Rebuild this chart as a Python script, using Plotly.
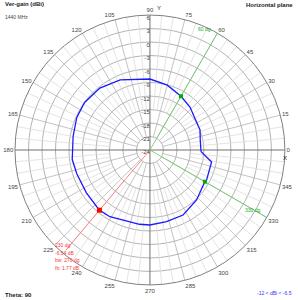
import plotly.graph_objects as go

# Pattern (horizontal plane, dBi)
theta_deg = [0, 11, 22, 47, 60, 75, 90, 113, 129, 144, 156, 170, 187, 198, 214, 230,
             239, 262, 270, 283, 297, 313, 329, 332, 349, 358, 360]
gain_db = [-12.67, -12.6, -12.0, -10.95, -10.2, -9.07, -8.22, -7.07, -6.3, -6.04, -6.2,
           -6.65, -6.6, -6.9, -6.96, -6.54, -6.7, -7.33, -7.33, -7.64, -7.78, -8.8,
           -9.88, -9.75, -10.04, -12.6, -12.67]

radial_ticks = [-24, -21, -18, -15, -12, -9, -6, -3, 0, 3, 6]
angle_ticks = list(range(0, 360, 15))

marker_green_theta = [60, 330]
marker_green_r = [-10.2, -9.9]
marker_red_theta = [230]
marker_red_r = [-6.54]

r_min, r_max = -24, 6

fig = go.Figure()

# fine 5-degree spokes
for a in range(0, 360, 5):
    if a % 15 == 0:
        continue
    fig.add_trace(go.Scatterpolar(r=[-15, r_max], theta=[a, a], mode="lines",
                                  line=dict(color="#dcdcdc", width=0.8),
                                  hoverinfo="skip", showlegend=False))
# 15-degree spokes
for a in angle_ticks:
    if a % 90 == 0:
        continue
    fig.add_trace(go.Scatterpolar(r=[-21, r_max], theta=[a, a], mode="lines",
                                  line=dict(color="#b4b4b4", width=0.8),
                                  hoverinfo="skip", showlegend=False))
# main axes
for a in (0, 90):
    fig.add_trace(go.Scatterpolar(r=[r_max, r_min, r_max], theta=[a, 0, a + 180], mode="lines",
                                  line=dict(color="#707070", width=1),
                                  hoverinfo="skip", showlegend=False))

# radial tick labels along the 90-degree axis
fig.add_trace(go.Scatterpolar(r=radial_ticks, theta=[90] * len(radial_ticks), mode="text",
                              text=[str(v) for v in radial_ticks], textposition="bottom left",
                              textfont=dict(size=6, color="#444444"),
                              hoverinfo="skip", showlegend=False))

# green cursor lines
for a in marker_green_theta:
    fig.add_trace(go.Scatterpolar(r=[r_min, r_max], theta=[0, a], mode="lines",
                                  line=dict(color="#66cc66", width=0.8),
                                  hoverinfo="skip", showlegend=False))
# red cursor line
fig.add_trace(go.Scatterpolar(r=[r_min, 5], theta=[0, 230], mode="lines",
                              line=dict(color="#ff6666", width=0.8),
                              hoverinfo="skip", showlegend=False))

# pattern
fig.add_trace(go.Scatterpolar(r=gain_db, theta=theta_deg, mode="lines",
                              line=dict(color="#1a1aff", width=1.3),
                              showlegend=False))

fig.add_trace(go.Scatterpolar(r=marker_green_r, theta=marker_green_theta, mode="markers",
                              marker=dict(color="#00b000", size=4, symbol="square"),
                              showlegend=False))
fig.add_trace(go.Scatterpolar(r=marker_red_r, theta=marker_red_theta, mode="markers",
                              marker=dict(color="#ff0000", size=5, symbol="square"),
                              showlegend=False))

fig.update_layout(
    width=298, height=300,
    margin=dict(l=0, r=0, t=0, b=0),
    paper_bgcolor="white",
    font=dict(family="Liberation Sans, Arial", size=6, color="#333333"),
    polar=dict(
        domain=dict(x=[0.0503, 0.956], y=[0.05, 0.95]),
        bgcolor="white",
        radialaxis=dict(range=[r_min, r_max], tickvals=radial_ticks, angle=90,
                        showticklabels=False, showline=False, ticks="",
                        gridcolor="#b4b4b4", gridwidth=0.8),
        angularaxis=dict(rotation=0, direction="counterclockwise",
                         tickvals=angle_ticks, ticktext=[str(a) for a in angle_ticks],
                         showgrid=False, ticks="", linecolor="#808080", linewidth=1,
                         tickfont=dict(size=6, color="#444444")),
    ),
)

ann = [
    dict(x=3, y=4, text="<b>Ver-gain (dBi)</b>", size=6, color="#222222", xanchor="left"),
    dict(x=3, y=17, text="1440 MHz", size=5, color="#444444", xanchor="left"),
    dict(x=295, y=5, text="<b>Horizontal plane</b>", size=6, color="#222222", xanchor="right"),
    dict(x=3, y=295, text="<b>Theta: 90</b>", size=6, color="#222222", xanchor="left"),
    dict(x=294, y=293, text="-12 &lt; dBi &lt; -6.5", size=5, color="#3333ff", xanchor="right"),
    dict(x=155, y=8, text="Y", size=6, color="#222222", xanchor="left"),
    dict(x=285, y=158, text="X", size=6, color="#222222", xanchor="center"),
    dict(x=213, y=29, text="60 dg", size=5, color="#22aa22", xanchor="right"),
    dict(x=263, y=210, text="330 dg", size=5, color="#22aa22", xanchor="right"),
    dict(x=53, y=245, text="230 dg", size=5, color="#ff3333", xanchor="left"),
    dict(x=53, y=253, text="-6.54 dB", size=5, color="#ff3333", xanchor="left"),
    dict(x=53, y=260, text="bw: 270 dg", size=5, color="#ff3333", xanchor="left"),
    dict(x=53, y=268, text="fb: 1.77 dB", size=5, color="#ff3333", xanchor="left"),
]
for a in ann:
    fig.add_annotation(x=a["x"] / 298, y=1 - a["y"] / 300, xref="paper", yref="paper",
                       text=a["text"], showarrow=False, xanchor=a["xanchor"], yanchor="middle",
                       font=dict(size=a["size"], color=a["color"]))

fig.write_html("out.html")
